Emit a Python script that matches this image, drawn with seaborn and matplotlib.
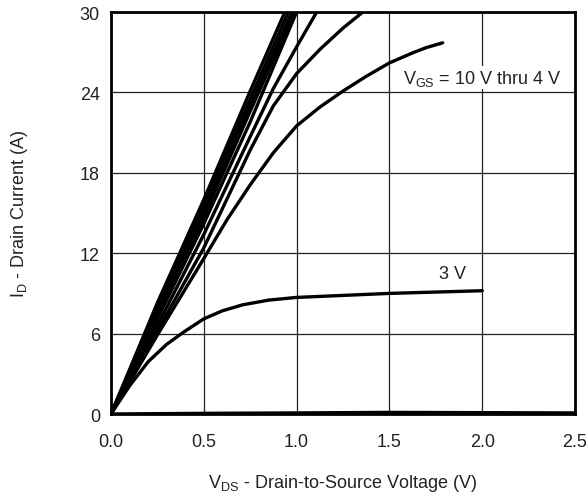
import numpy as np
import pandas as pd
import matplotlib
matplotlib.use("Agg")
import matplotlib.pyplot as plt
import seaborn as sns

# ---- data ----
vgs_labels = ["10 V", "8 V", "7 V", "6 V", "5 V", "4.5 V (a)", "4.5 V (b)", "4 V", "3 V", "2 V"]

vds_10 = [0, 0.25, 0.5, 0.75, 1.0]
id_10 = [0, 8.3, 16.0, 24.1, 32.0]
vds_8 = [0, 0.25, 0.5, 0.75, 1.0]
id_8 = [0, 8.0, 15.6, 23.5, 31.4]
vds_7 = [0, 0.25, 0.5, 0.75, 1.0]
id_7 = [0, 7.7, 15.1, 23.0, 30.8]
vds_6 = [0, 0.25, 0.5, 0.75, 1.0, 1.1]
id_6 = [0, 7.4, 14.7, 22.6, 30.3, 33.0]
vds_5 = [0, 0.25, 0.5, 0.75, 1.0, 1.1]
id_5 = [0, 7.1, 14.2, 21.8, 30.0, 32.5]
vds_a = [0, 0.25, 0.5, 0.75, 0.875, 1.0, 1.125, 1.25]
id_a = [0, 6.6, 13.4, 20.7, 24.3, 27.4, 30.4, 33.0]
vds_b = [0, 0.25, 0.5, 0.75, 0.875, 1.0, 1.125, 1.25, 1.375, 1.5]
id_b = [0, 6.2, 12.4, 19.7, 23.0, 25.4, 27.2, 28.8, 30.2, 31.3]
vds_4 = [0, 0.25, 0.5, 0.625, 0.75, 0.875, 1.0, 1.125, 1.25, 1.375, 1.5, 1.625, 1.7, 1.787]
id_4 = [0, 5.9, 11.6, 14.5, 17.1, 19.5, 21.5, 22.9, 24.1, 25.2, 26.2, 26.95, 27.35, 27.7]
vds_3 = [0, 0.1, 0.2, 0.3, 0.39, 0.5, 0.6, 0.71, 0.85, 1.0, 1.25, 1.5, 1.75, 2.0]
id_3 = [0, 2.1, 3.9, 5.2, 6.1, 7.1, 7.7, 8.15, 8.5, 8.7, 8.85, 9.0, 9.1, 9.2]
vds_2 = [0, 0.5, 1.0, 1.5, 2.0, 2.5]
id_2 = [0, 0.05, 0.08, 0.12, 0.1, 0.08]

x_ticks = [0.0, 0.5, 1.0, 1.5, 2.0, 2.5]
x_ticklabels = ["0.0", "0.5", "1.0", "1.5", "2.0", "2.5"]
y_ticks = [0, 6, 12, 18, 24, 30]
y_ticklabels = ["0", "6", "12", "18", "24", "30"]

curves = [(vds_10, id_10), (vds_8, id_8), (vds_7, id_7), (vds_6, id_6), (vds_5, id_5),
          (vds_a, id_a), (vds_b, id_b), (vds_4, id_4), (vds_3, id_3), (vds_2, id_2)]

frames = []
for lab, (xs, ys) in zip(vgs_labels, curves):
    frames.append(pd.DataFrame({"vds": xs, "id": ys, "vgs": lab}))
df = pd.concat(frames, ignore_index=True)

# ---- style ----
sns.set_style("white")
plt.rcParams["font.family"] = ["Liberation Sans", "DejaVu Sans"]
plt.rcParams["mathtext.fontset"] = "custom"
plt.rcParams["mathtext.rm"] = "Liberation Sans"
plt.rcParams["mathtext.it"] = "Liberation Sans"

FS = 13
TXT = "#222222"

fig = plt.figure(figsize=(5.88, 5.02), dpi=100)
ax = fig.add_axes([111 / 588, 1 - 415 / 502, (575 - 111) / 588, (415 - 13) / 502])

sns.lineplot(data=df, x="vds", y="id", hue="vgs", palette=["black"] * len(vgs_labels),
             legend=False, sort=False, estimator=None, units="vgs", linewidth=2.4,
             ax=ax, zorder=3)

ax.set_xlim(0, 2.5)
ax.set_ylim(0, 30)
ax.set_xticks(x_ticks)
ax.set_xticklabels(x_ticklabels)
ax.set_yticks(y_ticks)
ax.set_yticklabels(y_ticklabels)
ax.grid(True, color="#222222", linewidth=0.9)
ax.set_axisbelow(True)
for s in ax.spines.values():
    s.set_visible(True)
    s.set_color("black")
    s.set_linewidth(2.0)
ax.tick_params(axis="both", length=0, labelsize=FS, colors=TXT)
ax.tick_params(axis="x", pad=14)
ax.tick_params(axis="y", pad=8)

ax.set_xlabel(r"$\mathrm{V}_{\mathrm{DS}}$ - Drain-to-Source Voltage (V)", fontsize=FS, color=TXT)
ax.set_ylabel(r"$\mathrm{I}_{\mathrm{D}}$ - Drain Current (A)", fontsize=FS, color=TXT)
ax.xaxis.set_label_coords(0.5, (415 - 484) / 402, transform=ax.transAxes)
ax.yaxis.set_label_coords((20 - 111) / 464, 0.5, transform=ax.transAxes)
ax.xaxis.label.set_va("center")
ax.yaxis.label.set_va("center")

ax.text(1.572, 25.1, r"$\mathrm{V}_{\mathrm{GS}}$ = 10 V thru 4 V", fontsize=FS,
        color=TXT, ha="left", va="center", zorder=4,
        bbox=dict(facecolor="white", edgecolor="none", pad=1.0))
ax.text(1.84, 10.45, "3 V", fontsize=FS, color=TXT, ha="center", va="center",
        zorder=4, bbox=dict(facecolor="white", edgecolor="none", pad=1.0))

fig.savefig("out.png", dpi=100)
